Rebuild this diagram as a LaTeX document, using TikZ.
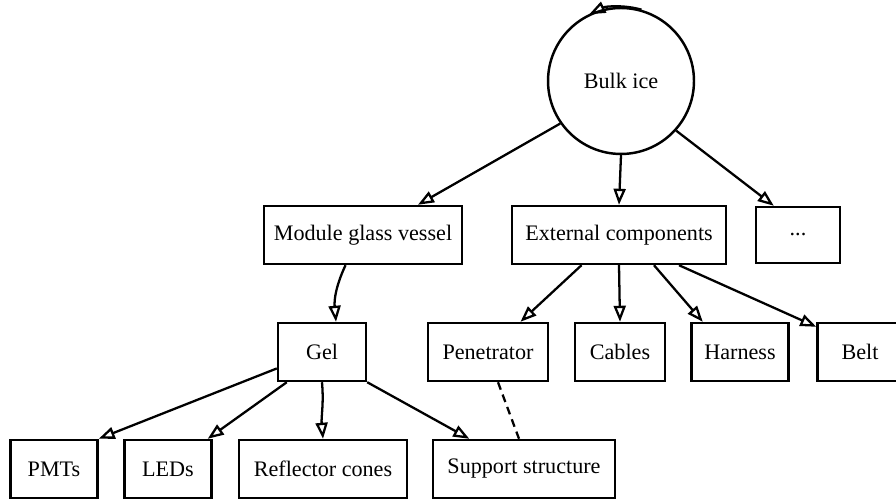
\documentclass[tikz,border=0pt]{standalone}
\usepackage{fontspec}
\setmainfont{Liberation Serif}
\usepackage{tikz}
\usetikzlibrary{arrows.meta, positioning, calc}
\tikzset{
    box/.style={rectangle, draw=black, line width=1.4pt, fill=white, minimum height=1.16cm, inner sep=2pt, align=center, font=\fontsize{12.6}{15}\selectfont},
    bulbox/.style={circle, draw=black, line width=1.4pt, fill=white, minimum size=2.92cm, inner sep=0pt, font=\fontsize{12.6}{15}\selectfont},
    arrow/.style={-{Triangle[open, length=3.2mm, width=2.4mm]}, line width=1.3pt, draw=black},
    dashedline/.style={line width=1.3pt, dash pattern=on 4.5pt off 3pt, draw=black}
}
\begin{document}
\begin{tikzpicture}[x=0.02cm, y=-0.02cm]
        \clip (0,0) rectangle (896,499);
        % top level
        \node[bulbox] (bulk) at (621,81) {Bulk ice};
        \node[box, minimum width=3.96cm] (vessel) at (363,235) {Module glass vessel};
        \node[box, minimum width=4.28cm] (external) at (619,235) {External components};
        \node[box, minimum width=1.68cm, minimum height=1.12cm] (more) at (798,235) {...};
        % second level
        \node[box, minimum width=1.76cm] (gel) at (322,352) {Gel};
        \node[box, minimum width=2.4cm] (penetrator) at (488,352) {Penetrator};
        \node[box, minimum width=1.8cm] (cables) at (620,352) {Cables};
        \node[box, minimum width=1.94cm] (harness) at (740,352) {Harness};
        \node[box, minimum width=1.7cm] (belt) at (860,352) {Belt};
        % bottom level
        \node[box, minimum width=1.74cm] (pmts) at (54,469) {PMTs};
        \node[box, minimum width=1.74cm] (leds) at (168,469) {LEDs};
        \node[box, minimum width=3.36cm] (cones) at (323,469) {Reflector cones};
        \node[box, minimum width=3.64cm] (support) at (524,469) {Support structure};
        % connectors
        \draw[arrow] (bulk.74) arc[start angle=74, end angle=116, radius=1.46cm];
        \draw[arrow] (bulk.215) -- ([xshift=1.1cm]vessel.north);
        \draw[arrow] (bulk.south) -- (external.north);
        \draw[arrow] (bulk.318) -- ([xshift=0.38cm]more.north west);
        \draw[arrow] ([xshift=-0.35cm]vessel.south) to[out=-115, in=95] ([xshift=0.28cm]gel.north);
        \draw[arrow] (gel.200) -- (pmts.north east);
        \draw[arrow] ([xshift=0.2cm]gel.south west) -- ([xshift=-0.1cm]leds.north east);
        \draw[arrow] (gel.south) to[out=-85, in=95] (cones.north);
        \draw[arrow] (gel.south east) -- ([xshift=0.75cm]support.north west);
        \draw[arrow] ([xshift=-0.75cm]external.south) -- ([xshift=0.65cm]penetrator.north);
        \draw[arrow] (external.south) -- (cables.north);
        \draw[arrow] ([xshift=0.7cm]external.south) -- ([xshift=0.25cm]harness.north west);
        \draw[arrow] ([xshift=1.2cm]external.south) -- ([yshift=-0.1cm]belt.north west);
        \draw[dashedline] ([xshift=0.2cm]penetrator.south) -- ([xshift=-0.1cm]support.north);
    \end{tikzpicture}
\end{document}
